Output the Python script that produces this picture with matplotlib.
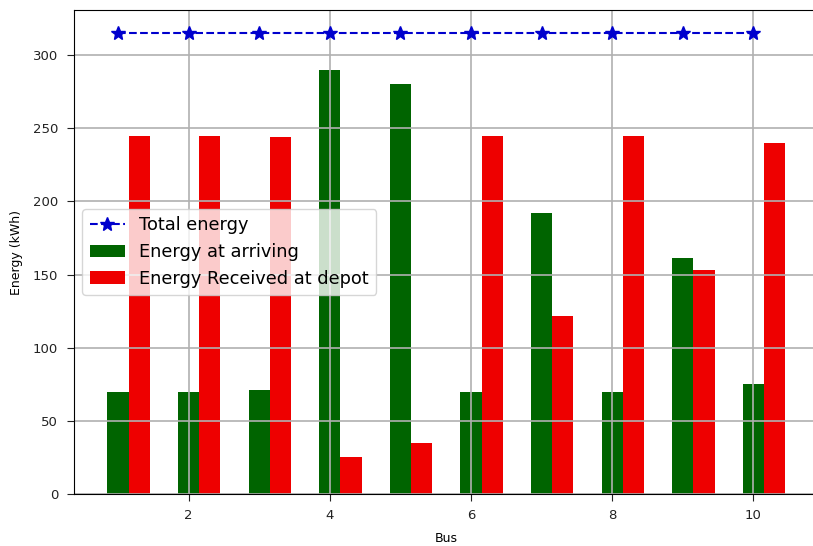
import matplotlib
matplotlib.use('Agg')
import matplotlib.pyplot as plt
import numpy as np

buses = np.arange(1, 11)
total_energy = [315, 315, 315, 315, 315, 315, 315, 315, 315, 315]
energy_arriving = [70, 70, 71, 290, 280, 70, 192, 70, 161, 75]
energy_received = [245, 245, 244, 25, 35, 245, 122, 245, 153, 240]

w = 0.3
fig = plt.figure(figsize=(8.13, 5.46), dpi=100)
ax = fig.add_axes([0.0905, 0.0952, 0.917, 0.8864])

ax.plot(buses, total_energy, '--*', color='#0000cd', markersize=10, linewidth=1.5, label='Total energy')
ax.bar(buses, energy_arriving, width=w, color='darkgreen', label='Energy at arriving')
ax.bar(buses + w, energy_received, width=w, color='#ee0000', label='Energy Received at depot')

ax.set_xlabel('Bus', fontsize=9, labelpad=7)
ax.set_ylabel('Energy (kWh)', fontsize=9, labelpad=7)
ax.tick_params(labelsize=9.5, length=5, pad=6, colors='#222222')
ax.grid(True, color='#b0b0b0', linewidth=1.2)
ax.legend(loc='center left', fontsize=12.8)

plt.savefig('out.png', dpi=100)
